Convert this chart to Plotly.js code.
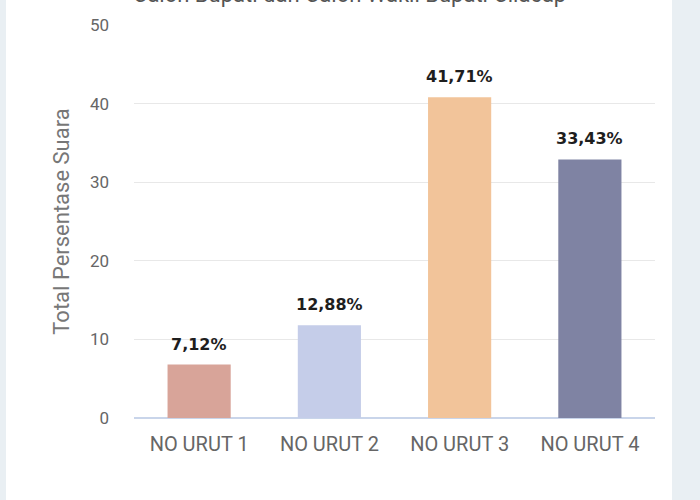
<!DOCTYPE html>
<html>
<head>
<meta charset="utf-8">
<script src="https://cdn.plot.ly/plotly-3.0.1.min.js"></script>
<style>
  html, body { margin: 0; padding: 0; width: 700px; height: 500px; background: #e9eff3; overflow: hidden; }
  #chart { position: absolute; left: 6px; top: 0; width: 666px; height: 500px; background: #ffffff; }
</style>
</head>
<body>
<div id="chart"></div>
<script>
const categories = ["NO URUT 1", "NO URUT 2", "NO URUT 3", "NO URUT 4"];
const barValues = [6.8, 11.8, 40.8, 32.9];
const valueLabels = ["7,12%", "12,88%", "41,71%", "33,43%"];
const barColors = ["#d8a499", "#c5cde9", "#f2c49a", "#7f83a3"];
const titleText = "Calon Bupati dan Calon Wakil Bupati Cilacap";
const yTitle = "Total Persentase Suara";
const yTicks = [0, 10, 20, 30, 40, 50];

const trace = {
  type: "bar",
  x: categories,
  y: barValues,
  marker: { color: barColors },
  hoverinfo: "none"
};

const annotations = categories.map((c, i) => ({
  x: c, y: barValues[i], xref: "x", yref: "y",
  text: "<b>" + valueLabels[i] + "</b>",
  showarrow: false, yanchor: "bottom", yshift: 9,
  font: { family: "'DejaVu Sans', sans-serif", size: 16, color: "#1e1e1e" }
}));

const layout = {
  width: 666, height: 500,
  margin: { l: 128, r: 17, t: 25, b: 82 },
  paper_bgcolor: "#ffffff",
  plot_bgcolor: "#ffffff",
  bargap: 0.515,
  showlegend: false,
  font: { family: "Roboto, 'Open Sans', sans-serif", color: "#666" },
  title: {
    text: titleText,
    x: 0.516, xref: "container", xanchor: "center",
    y: 0.996, yref: "container", yanchor: "bottom",
    font: { family: "Roboto, sans-serif", size: 22, color: "#555" }
  },
  xaxis: {
    type: "category",
    showgrid: false,
    showline: false,
    zeroline: false,
    ticks: "",
    ticklabelstandoff: 12,
    tickfont: { size: 20, color: "#666", family: "Roboto, sans-serif" },
    fixedrange: true
  },
  yaxis: {
    range: [0, 50],
    tickvals: yTicks,
    ticktext: yTicks.map(String),
    showgrid: true,
    gridcolor: "#e8e8e8",
    gridwidth: 1,
    zeroline: true,
    zerolinecolor: "#c9d5ea",
    zerolinewidth: 2,
    showline: false,
    ticks: "",
    ticklabelstandoff: 24,
    tickfont: { size: 17, color: "#666", family: "Roboto, sans-serif" },
    title: { text: yTitle, standoff: 14, font: { size: 22, color: "#777", family: "Roboto, sans-serif" } },
    fixedrange: true
  },
  annotations: annotations
};

Plotly.newPlot("chart", [trace], layout, { displayModeBar: false, staticPlot: true });
</script>
</body>
</html>
